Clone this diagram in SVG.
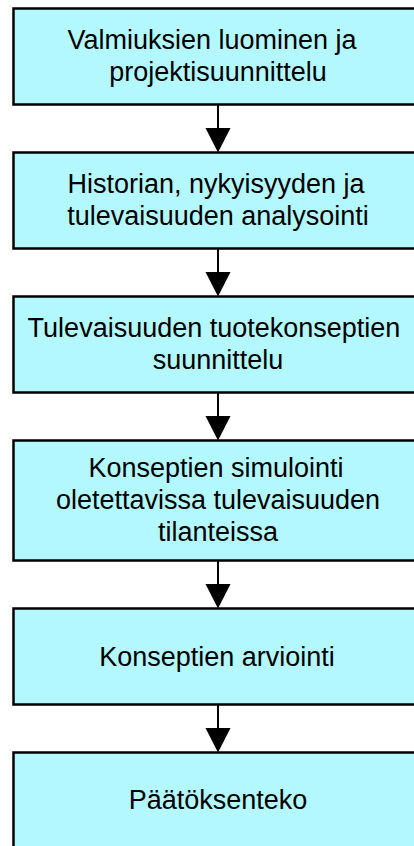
<svg xmlns="http://www.w3.org/2000/svg" width="414" height="846" viewBox="0 0 414 846">
<style>
.box{fill:#b3f8ff;stroke:#000;stroke-width:2.5}
.t{font-family:"Liberation Sans",Arial,Helvetica,sans-serif;font-size:27px;fill:#000;text-anchor:middle}
.ln{stroke:#000;stroke-width:2;fill:none}
.ah{fill:#000}
</style>
<rect width="414" height="846" fill="#fff"/>
<g id="n1"><rect class="box" x="13.5" y="8.5" width="410" height="96"/>
<text class="t" x="212" y="48.5">Valmiuksien luominen ja</text>
<text class="t" x="218" y="80.5">projektisuunnittelu</text></g>
<g id="n2"><rect class="box" x="13.5" y="152.5" width="410" height="96"/>
<text class="t" x="216" y="192.5">Historian, nykyisyyden ja</text>
<text class="t" x="218" y="224.5">tulevaisuuden analysointi</text></g>
<g id="n3"><rect class="box" x="13.5" y="296.5" width="410" height="96"/>
<text class="t" x="214" y="336.5">Tulevaisuuden tuotekonseptien</text>
<text class="t" x="218" y="368.5">suunnittelu</text></g>
<g id="n4"><rect class="box" x="13.5" y="440.5" width="410" height="120"/>
<text class="t" x="216" y="477">Konseptien simulointi</text>
<text class="t" x="218" y="509">oletettavissa tulevaisuuden</text>
<text class="t" x="218" y="541">tilanteissa</text></g>
<g id="n5"><rect class="box" x="13.5" y="608.5" width="410" height="96"/>
<text class="t" x="217" y="665.5">Konseptien arviointi</text></g>
<g id="n6"><rect class="box" x="13.5" y="752.5" width="410" height="120"/>
<text class="t" x="218" y="809">Päätöksenteko</text></g>
<g id="connectors">
<line class="ln" x1="218" y1="104.5" x2="218" y2="130"/><polygon class="ah" points="205.5,128 230.5,128 218,152.5"/>
<line class="ln" x1="218" y1="248.5" x2="218" y2="274"/><polygon class="ah" points="205.5,272 230.5,272 218,296.5"/>
<line class="ln" x1="218" y1="392.5" x2="218" y2="418"/><polygon class="ah" points="205.5,416 230.5,416 218,440.5"/>
<line class="ln" x1="218" y1="560.5" x2="218" y2="586"/><polygon class="ah" points="205.5,584 230.5,584 218,608.5"/>
<line class="ln" x1="218" y1="704.5" x2="218" y2="730"/><polygon class="ah" points="205.5,728 230.5,728 218,752.5"/>
</g>
</svg>
